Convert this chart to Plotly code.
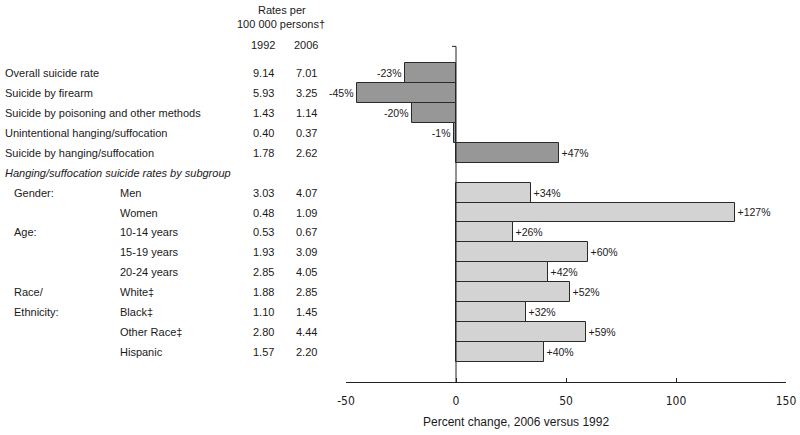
import plotly.graph_objects as go

# ---------------- data ----------------
main_labels = ["Overall suicide rate", "Suicide by firearm",
               "Suicide by poisoning and other methods",
               "Unintentional hanging/suffocation", "Suicide by hanging/suffocation"]
main_1992 = [9.14, 5.93, 1.43, 0.40, 1.78]
main_2006 = [7.01, 3.25, 1.14, 0.37, 2.62]
main_pct = [-23, -45, -20, -1, 47]

subgroup_header = "Hanging/suffocation suicide rates by subgroup"
sub_groups = ["Gender:", "", "Age:", "", "", "Race/", "Ethnicity:", "", ""]
sub_labels = ["Men", "Women", "10-14 years", "15-19 years", "20-24 years",
              "White‡", "Black‡", "Other Race‡", "Hispanic"]
sub_1992 = [3.03, 0.48, 0.53, 1.93, 2.85, 1.88, 1.10, 2.80, 1.57]
sub_2006 = [4.07, 1.09, 0.67, 3.09, 4.05, 2.85, 1.45, 4.44, 2.20]
sub_pct = [34, 127, 26, 60, 42, 52, 32, 59, 40]

x_ticks = [-50, 0, 50, 100, 150]
x_ticktext = ["-50", "0", "50", "100", "150"]

# ---------------- layout geometry ----------------
W, H = 800, 435
L, R, T, B = 346, 14, 43, 53
PW, PH = W - L - R, H - T - B
FONT = "Liberation Sans, Arial, sans-serif"
NARROW = "Liberation Sans Narrow, DejaVu Sans Condensed, Liberation Sans, Arial, sans-serif"
TXT = "#1a1a1a"


def px(xp):
    return (xp - L) / PW


def py(yp):
    return (H - B - yp) / PH


main_rows = [1 + i for i in range(len(main_labels))]
header_row = main_rows[-1] + 1
sub_rows = [header_row + 1 + i for i in range(len(sub_labels))]
n_slots = sub_rows[-1] + 2

fig = go.Figure()
fig.add_trace(go.Bar(
    x=main_pct, y=main_rows, orientation="h", width=1.0,
    marker=dict(color="#979797", line=dict(color="#2a2a2a", width=1)),
    text=[f"{p:+d}%" for p in main_pct], textposition="outside",
    textfont=dict(family=FONT, size=10.5, color=TXT), cliponaxis=False,
    showlegend=False, hoverinfo="skip"))
fig.add_trace(go.Bar(
    x=sub_pct, y=sub_rows, orientation="h", width=1.0,
    marker=dict(color="#d3d3d3", line=dict(color="#2a2a2a", width=1)),
    text=[f"{p:+d}%" for p in sub_pct], textposition="outside",
    textfont=dict(family=FONT, size=10.5, color=TXT), cliponaxis=False,
    showlegend=False, hoverinfo="skip"))

ann = []


def add(text, x, y, yref="y", xanchor="left", italic=False, size=11, family=FONT):
    ann.append(dict(text=f"<i>{text}</i>" if italic else text,
                    x=x, y=y, xref="paper", yref=yref, xanchor=xanchor,
                    yanchor="middle", showarrow=False,
                    font=dict(family=family, size=size, color=TXT)))


# header
add("Rates per", px(282), py(10), yref="paper", xanchor="center")
add("100 000 persons†", px(281), py(24), yref="paper", xanchor="center")
add("1992", px(263), py(45), yref="paper", xanchor="center")
add("2006", px(306), py(45), yref="paper", xanchor="center")

for lab, a, b, r in zip(main_labels, main_1992, main_2006, main_rows):
    add(lab, px(3), r)
    add(f"{a:.2f}", px(263), r, xanchor="center")
    add(f"{b:.2f}", px(306), r, xanchor="center")

add(subgroup_header, px(3), header_row, italic=True)

for g, lab, a, b, r in zip(sub_groups, sub_labels, sub_1992, sub_2006, sub_rows):
    if g:
        add(g, px(12), r)
    add(lab, px(118), r)
    add(f"{a:.2f}", px(263), r, xanchor="center")
    add(f"{b:.2f}", px(306), r, xanchor="center")

add("Percent change, 2006 versus 1992", px(516), py(422), yref="paper",
    xanchor="center", size=12)

fig.update_layout(
    width=W, height=H, margin=dict(l=L, r=R, t=T, b=B),
    paper_bgcolor="white", plot_bgcolor="white",
    bargap=0, showlegend=False, annotations=ann,
    xaxis=dict(range=[-50, 150], tickvals=x_ticks, ticktext=x_ticktext,
               ticks="inside", ticklen=4, ticklabelstandoff=8,
               tickcolor="#222", showline=True, linecolor="#222", linewidth=1,
               showgrid=False, zeroline=False, automargin=False,
               tickfont=dict(family=NARROW, size=12, color=TXT)),
    yaxis=dict(range=[n_slots - 0.5, -0.5], visible=False),
    shapes=[
        dict(type="line", xref="x", yref="paper", x0=0, x1=0, y0=0, y1=0.99,
             line=dict(color="#222", width=1)),
        dict(type="line", xref="x", yref="paper", x0=-1.8, x1=0, y0=0.99, y1=0.99,
             line=dict(color="#222", width=1)),
    ],
)

fig.write_html("out.html", config={"displayModeBar": False},
               post_script="document.body.style.margin='0';"
                           "document.body.style.overflow='hidden';")
